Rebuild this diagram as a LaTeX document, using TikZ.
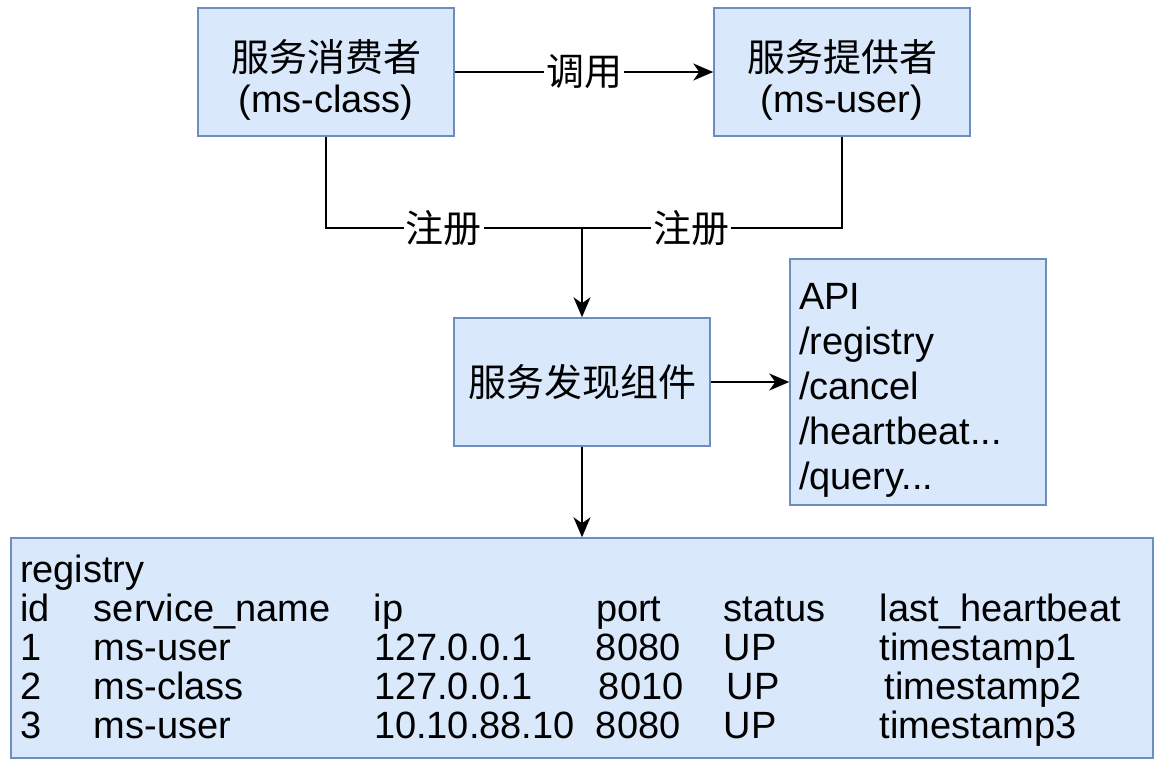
\documentclass[tikz,border=0pt]{standalone}
\usepackage{fontspec}
\setmainfont{Liberation Sans}
\newfontfamily\cjk{Noto Sans CJK SC}
\usepackage{tikz}
\usetikzlibrary{arrows.meta,shapes,positioning}
\usepackage{xcolor}
\definecolor{sdfill}{RGB}{218,232,252}
\definecolor{sdborder}{RGB}{108,142,191}
\tikzstyle{service} = [rectangle, minimum width=256pt, minimum height=128pt, align=center, draw=sdborder, fill=sdfill, line width=1.5pt, font=\fontsize{38}{46}\selectfont]
\tikzstyle{listbox} = [rectangle, draw=sdborder, fill=sdfill, line width=1.5pt, align=left, inner xsep=9pt, font=\fontsize{38}{45}\selectfont]
\tikzstyle{line} = [line width=2pt, color=black]
\tikzstyle{arrow} = [line width=2pt, -{Stealth[length=20pt,width=17pt,inset=6pt]}, color=black]
\tikzstyle{edgetext} = [fill=white, inner sep=2pt, font=\cjk\fontsize{38}{40}\selectfont]

\begin{document}
\begin{tikzpicture}[x=1pt, y=-1pt]
\useasboundingbox (0,0) rectangle (1166,774);
\node (consumer) [service] at (326,72) {\rule{0pt}{42pt}\raisebox{-5pt}{\cjk 服务消费者}\\(ms-class)};
\node (provider) [service] at (842,72) {\rule{0pt}{42pt}\raisebox{-5pt}{\cjk 服务提供者}\\(ms-user)};
\node (discovery) [service] at (582,382) {\cjk 服务发现组件};
\node (api) [listbox, minimum width=256pt, minimum height=246pt, text width=238pt] at (918,382) {\rule{0pt}{42pt}API\\/registry\\/cancel\\/heartbeat...\\/query...};
\node (registry) [listbox, minimum width=1142pt, minimum height=220pt, text width=1124pt, inner xsep=9pt, font=\fontsize{38}{38.5}\selectfont] at (582,648) {%
\setlength{\tabcolsep}{0pt}\renewcommand{\arraystretch}{1}%
\begin{tabular}{@{}p{74pt}p{280pt}p{222pt}p{128pt}p{156pt}l@{}}
\multicolumn{6}{@{}l}{\rule{0pt}{36pt}registry}\\
id & service\_name & ip & port & status & last\_heartbeat\\
1 & ms-user & 127.0.0.1 & 8080 & UP & timestamp1\\
2 & ms-class & 127.0.0.1 & \hspace{3pt}8010 & \hspace{3pt}UP & \hspace{5pt}timestamp2\\
3 & ms-user & 10.10.88.10 & 8080 & UP & timestamp3\\
\end{tabular}};
\coordinate (hub) at (582,228);
\draw [arrow] (consumer) -- node[edgetext] {调用} (provider);
\draw [line] (consumer) |- node[edgetext, pos=0.73] {注册} (hub);
\draw [line] (provider) |- node[edgetext, pos=0.79] {注册} (hub);
\draw [arrow] (hub) -- (discovery);
\draw [arrow] (discovery) -- (api);
\draw [arrow] (discovery) -- (registry);
\end{tikzpicture}
\end{document}
